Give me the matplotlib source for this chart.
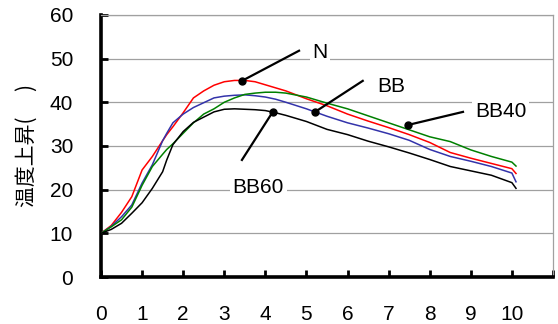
import matplotlib.pyplot as plt

plt.rcParams['font.family'] = ['Liberation Sans', 'DejaVu Sans']

# time axis and temperature rise for each sample
t = [0, 0.25, 0.5, 0.75, 1.0, 1.25, 1.5, 1.6, 1.75, 2.0, 2.25, 2.5, 2.75, 3.0, 3.25, 3.5,
     3.75, 4.0, 4.25, 4.5, 5.0, 5.5, 6.0, 6.5, 7.0, 7.5, 8.0, 8.5, 9.0, 9.5, 10.0, 10.1]

n = [10, 11.8, 14.8, 18.4, 24.5, 27.6, 31.2, 32.6, 34.4, 37.6, 41.0, 42.6, 43.9, 44.7, 45.0, 45.0,
     44.7, 44.0, 43.3, 42.6, 40.8, 39.2, 37.3, 35.7, 34.2, 32.6, 30.8, 28.5, 27.2, 26.0, 24.8, 23.7]
bb = [10, 11.6, 13.8, 16.5, 21.5, 25.7, 31.2, 32.9, 35.3, 37.3, 38.8, 39.9, 41.0, 41.4, 41.6, 41.7,
      41.5, 41.2, 40.7, 40.0, 38.5, 36.8, 35.3, 34.1, 32.8, 31.3, 29.2, 27.6, 26.5, 25.3, 23.8, 21.8]
bb40 = [10, 11.5, 13.1, 16.0, 21.0, 25.3, 28.1, 29.2, 30.5, 32.9, 35.3, 37.3, 38.5, 40.0, 41.0, 41.8,
        42.1, 42.3, 42.3, 42.1, 41.2, 39.8, 38.5, 36.9, 35.3, 33.7, 32.1, 31.0, 29.1, 27.6, 26.3, 25.4]
bb60 = [10, 10.9, 12.3, 14.6, 17.0, 20.3, 24.1, 26.8, 30.3, 33.3, 35.4, 36.6, 37.8, 38.4, 38.5, 38.4,
        38.3, 38.1, 37.6, 37.0, 35.6, 33.8, 32.6, 31.1, 29.8, 28.4, 26.9, 25.3, 24.3, 23.3, 21.6, 20.3]

# label text, point on the curve, end of the leader line, text position
labels = [
    ("N", (3.43, 44.9), (4.82, 51.8), (5.33, 51.5)),
    ("BB", (5.21, 37.8), (6.37, 44.9), (7.07, 43.5)),
    ("BB40", (7.47, 34.8), (8.81, 37.8), (9.73, 38.0)),
    ("BB60", (4.18, 37.8), (3.43, 26.8), (3.83, 20.6)),
]

fig = plt.figure(figsize=(5.58, 3.24), dpi=100)
ax = fig.add_axes([0.181, 0.145, 0.81, 0.809])

ax.plot(t, n, color='#ff0000', lw=1.1, zorder=3)
ax.plot(t, bb, color='#3333aa', lw=1.1, zorder=3)
ax.plot(t, bb40, color='#008000', lw=1.1, zorder=3)
ax.plot(t, bb60, color='#000000', lw=1.1, zorder=3)

for text, p, q, pos in labels:
    ax.plot([p[0], q[0]], [p[1], q[1]], color='black', lw=1.6, zorder=4)
    ax.plot(p[0], p[1], 'o', color='black', ms=5, zorder=5)
    ax.text(pos[0], pos[1], text, fontsize=15, ha='center', va='center', zorder=4,
            bbox=dict(facecolor='white', edgecolor='none', pad=2))

ax.set_xlim(0, 11)
ax.set_ylim(0, 60)
ax.set_xticks(range(12))
ax.set_xticklabels([str(i) for i in range(11)] + [''])
ax.set_yticks(range(0, 61, 10))
ax.yaxis.grid(True, color='#a0a0a0', lw=0.9)
ax.set_axisbelow(True)

for s in ['left', 'bottom']:
    ax.spines[s].set_linewidth(2.6)
for s in ['top', 'right']:
    ax.spines[s].set_color('#a0a0a0')
    ax.spines[s].set_linewidth(0.9)

ax.tick_params(direction='in', length=5, width=2, labelsize=15, pad=20)
ax.tick_params(axis='x', top=False)
ax.set_ylabel('温度上昇(　 )', family=['Noto Sans CJK JP', 'DejaVu Sans'], fontsize=15)
ax.yaxis.set_label_coords(-0.14, 0.5)

fig.savefig('out.png', dpi=100)
